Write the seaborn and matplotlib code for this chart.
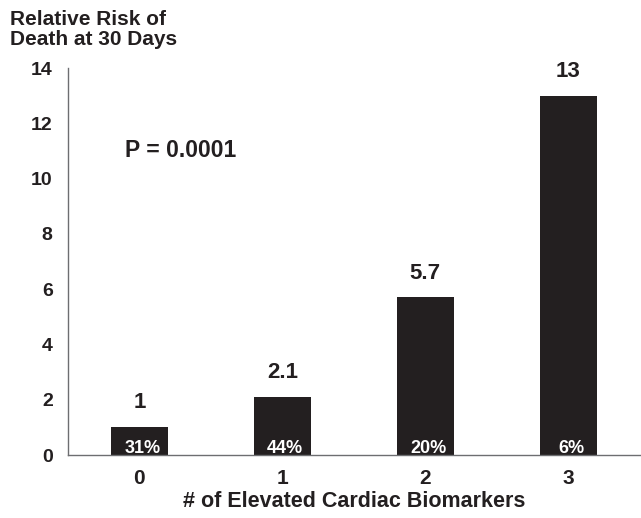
import numpy as np, pandas as pd
import matplotlib
matplotlib.use("Agg")
import matplotlib.pyplot as plt
import seaborn as sn

# dati
biomarkers = ["0", "1", "2", "3"]
rel_risk = [1, 2.1, 5.7, 13]
risk_labels = ["1", "2.1", "5.7", "13"]
pct_labels = ["31%", "44%", "20%", "6%"]
yticks = [0, 2, 4, 6, 8, 10, 12, 14]

ink = "#231f20"
axis_grey = "#6d6e71"

sn.set_style("white")
plt.rcParams['font.family'] = ['Liberation Sans', 'DejaVu Sans']
plt.rcParams['font.weight'] = 'bold'

df = pd.DataFrame({"n": biomarkers, "rr": rel_risk})

fig = plt.figure(figsize=(6.41, 5.18), dpi=100)
ax = fig.add_axes([0.106, 0.1216, 0.892, 0.7471])
sn.barplot(data=df, x="n", y="rr", color=ink, saturation=1, width=0.4, ax=ax)
for p in ax.patches:
   p.set_edgecolor("none")

ax.set_xlim(-0.5, 3.5)
ax.set_ylim(0, 14)
ax.set_yticks(yticks)
ax.set_yticklabels([str(t) for t in yticks], fontsize=14, fontweight='bold', color=ink)
ax.set_xticks(np.arange(len(biomarkers)))
ax.set_xticklabels(biomarkers, fontsize=15, fontweight='bold', color=ink)
ax.set_xticks(np.arange(len(biomarkers) + 1) - 0.5, minor=True)
ax.tick_params(axis='x', which='major', length=0, pad=10)
ax.tick_params(axis='x', which='minor', length=6, width=1, color=axis_grey, direction='out')
ax.tick_params(axis='y', length=4, width=1, color=axis_grey, direction='out', pad=7)

for s in ['top', 'right']:
   ax.spines[s].set_visible(False)
for s in ['left', 'bottom']:
   ax.spines[s].set_color(axis_grey)
   ax.spines[s].set_linewidth(1)

ax.set_xlabel("# of Elevated Cardiac Biomarkers", fontsize=15.5, fontweight='bold', color=ink, labelpad=2)
ax.set_ylabel("")

# valori sopra le barre e percentuali dentro
for i in range(len(biomarkers)):
   ax.annotate(risk_labels[i], xy=(i, rel_risk[i]), xytext=(0, 10), textcoords='offset points',
               ha='center', va='bottom', fontsize=16, fontweight='bold', color=ink)
   ax.annotate(pct_labels[i], xy=(i + 0.02, 0), xytext=(0, 1.5), textcoords='offset points',
               ha='center', va='baseline', fontsize=13, fontweight='bold', color='white')

ax.text(-0.1, 11.03, "P = 0.0001", ha='left', va='center', fontsize=16.5, fontweight='bold', color=ink)

fig.text(0.015, 0.943, "Relative Risk of\nDeath at 30 Days", ha='left', va='center',
         fontsize=15, fontweight='bold', color=ink, linespacing=1.05)

plt.savefig("out.png", dpi=100)
